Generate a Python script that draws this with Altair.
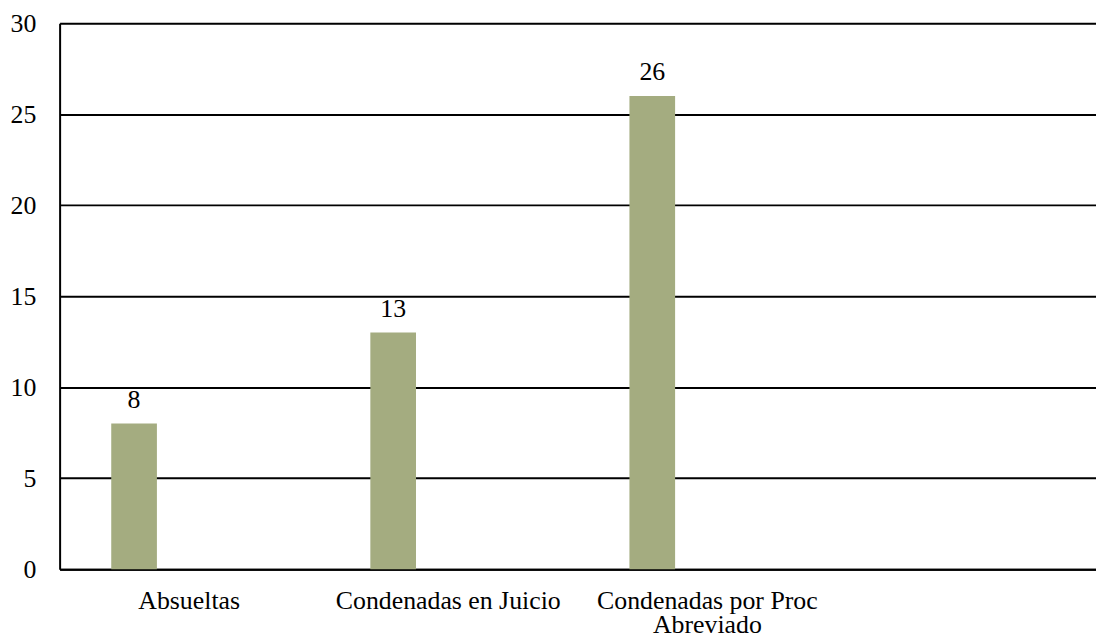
import altair as alt
import pandas as pd

categories = ["Absueltas", "Condenadas en Juicio", "Condenadas por Proc|Abreviado", " "]
values = [8, 13, 26]
series_name = "Serie 1"
series_domain = ["Serie 1", "Serie 2", "Serie 3"]

df = pd.DataFrame({
    "cat": categories[:len(values)],
    "val": values,
    "serie": [series_name] * len(values),
})

FONT = "Liberation Serif, DejaVu Serif, serif"
FS = 26

x_enc = alt.X("cat:N", sort=categories,
              scale=alt.Scale(domain=categories, paddingInner=0, paddingOuter=0),
              axis=alt.Axis(title=None, labelAngle=0, ticks=False, domain=True,
                            domainColor="#000", domainWidth=2,
                            labelFont=FONT, labelFontSize=FS, labelColor="#000",
                            labelPadding=19, labelLineHeight=24, labelLimit=0,
                            labelExpr="split(datum.label, '|')"))
xo_enc = alt.XOffset("serie:N", scale=alt.Scale(domain=series_domain,
                                               paddingInner=0.171, paddingOuter=0.937))
y_enc = alt.Y("val:Q", scale=alt.Scale(domain=[0, 30], nice=False),
              axis=alt.Axis(title=None, values=[0, 5, 10, 15, 20, 25, 30], ticks=False,
                            domain=True, domainColor="#000", domainWidth=2,
                            grid=True, gridColor="#000", gridWidth=2, gridOpacity=1,
                            labelFont=FONT, labelFontSize=FS, labelColor="#000",
                            labelPadding=24))

bars = alt.Chart(df).mark_bar(color="#A4AC80").encode(x=x_enc, xOffset=xo_enc, y=y_enc)
labels = alt.Chart(df).mark_text(font=FONT, fontSize=FS, color="#000",
                                 baseline="alphabetic", dy=-16).encode(
    x=alt.X("cat:N", sort=categories), xOffset="serie:N", y="val:Q", text="val:Q")

chart = (bars + labels).properties(
    width=1044, height=550,
    padding={"left": 2, "top": 0, "right": 0, "bottom": 0},
).configure_view(stroke=None).configure(background="white")

chart.save("out.html", embed_options={"renderer": "svg", "actions": False})
